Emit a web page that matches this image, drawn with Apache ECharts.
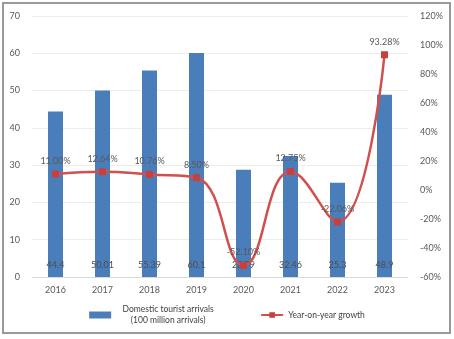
<!DOCTYPE html>
<html><head><meta charset="utf-8">
<script src="https://cdn.jsdelivr.net/npm/echarts@6/dist/echarts.min.js"></script>
<style>html,body{margin:0;padding:0;background:#fff}#c{width:454px;height:339px}</style>
</head><body><div id="c"></div>
<script>
const years = ['2016','2017','2018','2019','2020','2021','2022','2023'];
const arrivals = [44.4, 50.01, 55.39, 60.1, 28.79, 32.46, 25.3, 48.9];
const growth = [11.00, 12.64, 10.76, 8.50, -52.10, 12.75, -22.06, 93.28];
const leftTicks = {min: 0, max: 70, interval: 10};
const rightTicks = {min: -60, max: 120, interval: 20};

const chart = echarts.init(document.getElementById('c'), null, {renderer: 'canvas'});
const txt = '#595959';
chart.setOption({
  animation: false,
  textStyle: {fontFamily: 'Lato, "Open Sans", sans-serif'},
  graphic: [{type: 'rect', shape: {x: 3, y: 3, width: 447, height: 330}, style: {fill: 'none', stroke: '#9a9a9a', lineWidth: 2}}],
  grid: {left: 32, right: 46, top: 16, bottom: 62},
  legend: {
    bottom: 9, left: 'center', itemGap: 40, itemWidth: 22, itemHeight: 7,
    textStyle: {color: '#404040', fontSize: 8.5},
    data: [
      {name: 'Domestic tourist arrivals\n(100 million arrivals)', icon: 'rect'},
      {name: 'Year-on-year growth'}
    ],
    formatter: function(n){
      if (n.indexOf('\n') >= 0) { const p = n.split('\n'); return '{a|' + p[0] + '}\n{a|' + p[1] + '}'; }
      return n;
    },
    textStyle: {color: '#404040', fontSize: 8.5, rich: {a: {fontSize: 8.5, width: 104, align: 'center', color: '#404040', lineHeight: 11}}}
  },
  xAxis: {
    type: 'category', data: years,
    axisLine: {lineStyle: {color: '#d9d9d9'}}, axisTick: {show: false},
    axisLabel: {color: txt, fontSize: 9, margin: 9}
  },
  yAxis: [
    {type: 'value', min: leftTicks.min, max: leftTicks.max, interval: leftTicks.interval,
     axisLabel: {color: txt, fontSize: 9, margin: 12}, splitLine: {lineStyle: {color: '#ececec'}},
     axisLine: {show: false}, axisTick: {show: false}},
    {type: 'value', min: rightTicks.min, max: rightTicks.max, interval: rightTicks.interval,
     axisLabel: {color: txt, fontSize: 9, formatter: '{value}%', margin: 12}, splitLine: {show: false},
     axisLine: {show: false}, axisTick: {show: false}}
  ],
  series: [
    {name: 'Domestic tourist arrivals\n(100 million arrivals)', type: 'bar', data: arrivals, barWidth: 15,
     itemStyle: {color: '#4a7ebb'},
     label: {show: true, position: 'insideBottom', distance: 7, color: '#4d4d4d', fontSize: 9}},
    {name: 'Year-on-year growth', type: 'line', yAxisIndex: 1, data: growth, smooth: 0.45,
     symbol: 'rect', symbolSize: 7,
     lineStyle: {color: '#d0504d', width: 2.5}, itemStyle: {color: '#c8403d'},
     label: {show: true, position: 'top', distance: 5, color: '#595959', fontSize: 9,
             formatter: p => p.value.toFixed(2) + '%'}}
  ]
});
</script></body></html>
